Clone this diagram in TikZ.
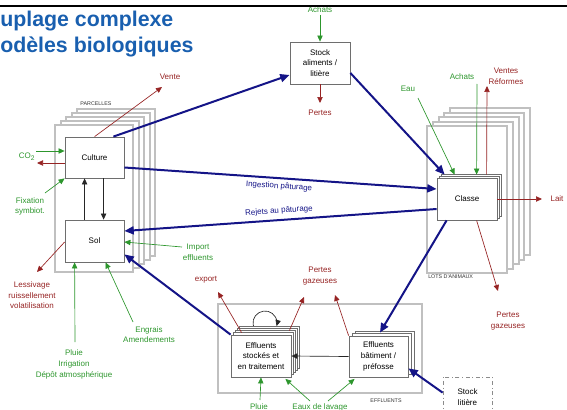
\documentclass[tikz,border=0pt]{standalone}
\usepackage{fontspec}
\setmainfont{Liberation Sans}
\usetikzlibrary{arrows.meta,calc}
\definecolor{tblue}{RGB}{25,95,175}
\definecolor{navy}{RGB}{20,20,135}
\definecolor{grn}{RGB}{45,150,45}
\definecolor{rd}{RGB}{150,35,35}
\definecolor{gbox}{RGB}{192,192,192}
\definecolor{bdr}{RGB}{110,110,110}
\begin{document}
\begin{tikzpicture}[x=0.75pt,y=-0.75pt,
  box/.style={draw=bdr,fill=white,line width=0.6pt,inner sep=0pt,align=center,font=\fontsize{6}{8}\selectfont},
  layer/.style={draw=bdr,fill=white,line width=0.6pt},
  grp/.style={draw=gbox,fill=white,line width=1.5pt},
  small/.style={font=\fontsize{4}{4}\selectfont,inner sep=0pt,text=black!80},
  bluearr/.style={draw=navy,line width=1.5pt,-{Triangle[length=7pt,width=6pt]}},
  garr/.style={draw=grn,line width=0.5pt,-{Triangle[length=4.5pt,width=4pt]}},
  rarr/.style={draw=rd,line width=0.5pt,-{Triangle[length=4.5pt,width=4pt]}},
  karr/.style={draw=black!85,line width=0.5pt,-{Triangle[length=4.5pt,width=4pt]}},
  gtxt/.style={text=grn,align=center,inner sep=0pt,font=\fontsize{6}{8}\selectfont},
  rtxt/.style={text=rd,align=center,inner sep=0pt,font=\fontsize{6}{8}\selectfont},
  btxt/.style={text=navy,inner sep=0pt,font=\fontsize{6}{8}\selectfont},
  ttl/.style={text=tblue,inner sep=0pt,anchor=base west,font=\fontsize{16}{19}\selectfont\bfseries}
]
\useasboundingbox (0,0) rectangle (567,410);
% title
\node[ttl] (t1) at (0,26.7) {uplage complexe};
\node[ttl] (t2) at (0,52.7) {odèles biologiques};
\node[gtxt] (achats1) at (320,10) {Achats};
\draw[line width=1.8pt] (0,6) -- (567,6);

% groups
\foreach \i in {4,3,2,1,0}
  \draw[grp] ({55+5.5*\i},{125-4*\i}) rectangle ({133+5.5*\i},{272-4*\i});
\foreach \i in {4,3,2,1,0}
  \draw[grp] ({427+5.8*\i},{126-4.5*\i}) rectangle ({507+5.8*\i},{273-4.5*\i});
\draw[grp] (218,304) rectangle (422,393);
\node[small] (parc) at (96,104) {PARCELLES};
\node[small,anchor=west] (lots) at (428,277) {LOTS D'ANIMAUX};
\node[small] (effl) at (386,401) {EFFLUENTS};

% loop (behind stack)
\draw[karr] (265,323) ++(-210:12) arc[start angle=-210,end angle=15,radius=12];

% back layers
\foreach \i in {2,1}
  \draw[layer] ({437+2*\i},{178-2*\i}) rectangle ({497+2*\i},{220-2*\i});
\foreach \i in {4,3,2,1}
  \draw[layer] ({231+2.2*\i},{335-2.2*\i}) rectangle ({291+2.2*\i},{377-2.2*\i});
\foreach \i in {2,1}
  \draw[layer] ({349+3*\i},{336-2.5*\i}) rectangle ({408+3*\i},{377-2.5*\i});

% main nodes
\node[box,minimum width=44.25pt,minimum height=30.75pt] (culture) at (94.5,157.5) {Culture};
\node[box,minimum width=44.25pt,minimum height=31.5pt] (sol) at (94.5,241) {Sol};
\node[box,minimum width=45pt,minimum height=31.5pt] (stock) at (320,63) {Stock\\aliments /\\litière};
\node[box,minimum width=45pt,minimum height=31.5pt] (classe) at (467,199) {Classe};
\node[box,minimum width=45pt,minimum height=31.5pt] (effstock) at (261,356) {Effluents\\stockés et\\en traitement};
\node[box,minimum width=44.25pt,minimum height=30.75pt] (effbat) at (378.5,356.5) {Effluents\\bâtiment /\\préfosse};
\node[box,dash dot,draw=bdr!80,minimum width=36.75pt,minimum height=30pt] (litiere) at (467.5,397) {Stock\\litière};

% text labels
\node[rtxt] (pertes1) at (320,113) {Pertes};
\node[rtxt] (vente) at (170,77) {Vente};
\node[gtxt] (co2) at (27,157) {CO\textsubscript{2}};
\node[gtxt] (fix) at (30,206.5) {Fixation\\symbiot.};
\node[gtxt] (import) at (198,252) {Import\\effluents};
\node[rtxt,font=\fontsize{6}{7.9}\selectfont] (less) at (32,295.5) {Lessivage\\ruissellement\\volatilisation};
\node[gtxt,font=\fontsize{6}{8.2}\selectfont] (pluie1) at (74,364) {Pluie\\Irrigation\\Dépôt atmosphérique};
\node[gtxt,font=\fontsize{6}{7.5}\selectfont] (engrais) at (149,335) {Engrais\\Amendements};
\node[gtxt] (eau) at (408,89) {Eau};
\node[gtxt] (achats2) at (462,77) {Achats};
\node[rtxt,font=\fontsize{6}{8.2}\selectfont] (ventes) at (506,76.5) {Ventes\\Réformes};
\node[rtxt] (lait) at (557,199) {Lait};
\node[rtxt,font=\fontsize{6}{8.2}\selectfont] (pertes2) at (508,321.5) {Pertes\\gazeuses};
\node[rtxt] (export) at (206,280) {export};
\node[rtxt,font=\fontsize{6}{8.2}\selectfont] (pertes3) at (320,276.5) {Pertes\\gazeuses};
\node[gtxt] (pluie2) at (259,407) {Pluie};
\node[gtxt] (eaux) at (320,407) {Eaux de lavage};
\node[btxt,rotate=-3.8] (ingest) at (279,186.5) {Ingestion pâturage};
\node[btxt,rotate=4] (rejets) at (279,211) {Rejets au pâturage};

% free ends
\coordinate (achS) at (320,15);
\coordinate (pertE) at (320,103);
\coordinate (venE) at (162,87);
\coordinate (co2in) at (36,151);
\coordinate (co2out) at (37,163);
\coordinate (fixS) at (45,193);
\coordinate (impS) at (182,247);
\coordinate (lessE) at (37,272);
\coordinate (pluS) at (75,342);
\coordinate (engS) at (133,322);
\coordinate (eauS) at (418,98);
\coordinate (ach2S) at (477,84);
\coordinate (ventE) at (487,86);
\coordinate (laitE) at (542,199);
\coordinate (pg2E) at (498,291);
\coordinate (expE) at (218,292);
\coordinate (pg3a) at (304,297);
\coordinate (pg3b) at (335,295);
\coordinate (plu2S) at (260,400);
\coordinate (eauxA) at (310,401);
\coordinate (eauxB) at (328,401);

% blue flows
\draw[bluearr] ($(culture.north east)+(-11,0)$) -- ($(stock.west)+(0,12)$);
\draw[bluearr] ($(stock.east)+(0,10)$) -- ($(classe.north west)+(8,-3)$);
\draw[bluearr] ($(culture.east)+(0,10)$) -- ($(classe.west)+(0,-10)$);
\draw[bluearr] ($(classe.west)+(0,10)$) -- ($(sol.east)+(0,-10)$);
\draw[bluearr] (effstock.north west) -- ($(sol.south east)+(0,-8)$);
\draw[bluearr] ($(classe.south west)+(10,0)$) -- ($(effbat.north)+(1.5,-3)$);
\draw[bluearr] ($(litiere.north west)+(0,16)$) -- ($(effbat.south east)+(0,-9)$);

% black
\draw[karr] (effbat.west) -- (effstock.east);
\draw[karr] ($(sol.north west)+(20,0)$) -- ($(culture.south west)+(20,0)$);
\draw[karr] ($(culture.south west)+(39,0)$) -- ($(sol.north west)+(39,0)$);

% thin flows
\draw[garr] (achS) -- (stock.north);
\draw[rarr] (stock.south) -- (pertE);
\draw[rarr] ($(culture.north west)+(30,0)$) -- (venE);
\draw[garr] (co2in) -- ($(culture.west)+(0,-6.5)$);
\draw[rarr] ($(culture.west)+(0,5.5)$) -- (co2out);
\draw[garr] (fixS) -- (culture.south west);
\draw[garr] (impS) -- ($(sol.east)+(0,1)$);
\draw[rarr] ($(sol.west)+(0,1)$) -- (lessE);
\draw[garr] (pluS) -- ($(sol.south west)+(10,0)$);
\draw[garr] (engS) -- ($(sol.south west)+(41,0)$);
\draw[garr] (eauS) -- ($(classe.north west)+(18,-3)$);
\draw[garr] (ach2S) -- ($(classe.north west)+(40,-3)$);
\draw[rarr] ($(classe.north west)+(50,-3)$) -- (ventE);
\draw[rarr] (classe.east) -- (laitE);
\draw[rarr] ($(classe.south west)+(40,0)$) -- (pg2E);
\draw[rarr] ($(effstock.north west)+(11,-2)$) -- (expE);
\draw[rarr] ($(effstock.north east)+(-2,-4)$) -- (pg3a);
\draw[rarr] (effbat.north west) -- (pg3b);
\draw[garr] (plu2S) -- (effstock.south);
\draw[garr] (eauxA) -- ($(effstock.south east)+(-6,1.5)$);
\draw[garr] (eauxB) -- ($(effbat.south west)+(6,1.5)$);
\end{tikzpicture}
\end{document}
